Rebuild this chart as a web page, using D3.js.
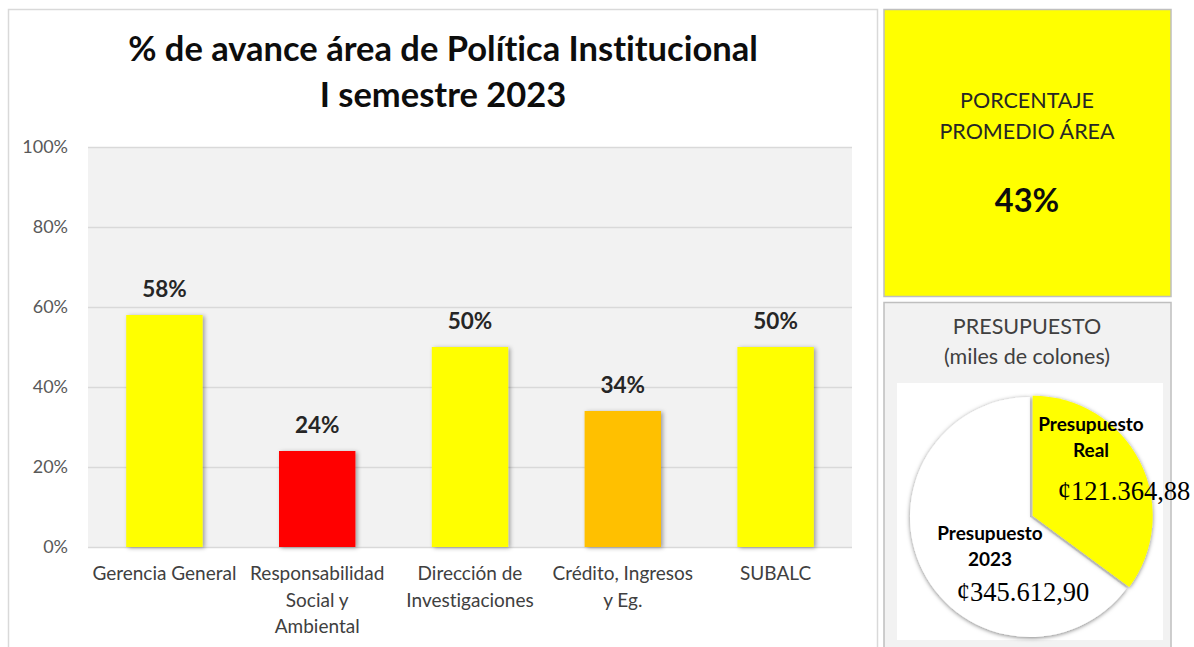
<!DOCTYPE html>
<html>
<head>
<meta charset="utf-8">
<script src="https://cdn.jsdelivr.net/npm/d3@7"></script>
<style>
  body { margin: 0; background: #ffffff; }
  svg { display: block; }
  text { font-family: Lato, "Open Sans", sans-serif; font-variant-ligatures: none; }
</style>
</head>
<body>
<svg id="chart" width="1194" height="647"></svg>
<script>
// Avance por dependencia
const categories = [
  ["Gerencia General"],
  ["Responsabilidad", "Social y", "Ambiental"],
  ["Dirección de", "Investigaciones"],
  ["Crédito, Ingresos", "y Eg."],
  ["SUBALC"]
];
const advance = [0.58, 0.24, 0.50, 0.34, 0.50];
const barColors = ["#ffff00", "#ff0000", "#ffff00", "#ffc000", "#ffff00"];
const yTicks = [0, 0.2, 0.4, 0.6, 0.8, 1.0];

// Indicador promedio
const averageValue = 0.43;

// Presupuesto (miles de colones)
const budget2023 = 345612.90;
const budgetReal = 121364.88;

const svg = d3.select("#chart");
const defs = svg.append("defs");

const shadow = defs.append("filter").attr("id", "barShadow")
  .attr("x", "-20%").attr("y", "-10%").attr("width", "150%").attr("height", "130%");
shadow.append("feDropShadow").attr("dx", 2).attr("dy", 1).attr("stdDeviation", 2)
  .attr("flood-color", "#000").attr("flood-opacity", 0.35);

const pieShadow = defs.append("filter").attr("id", "pieShadow")
  .attr("x", "-20%").attr("y", "-20%").attr("width", "140%").attr("height", "140%");
pieShadow.append("feDropShadow").attr("dx", 0).attr("dy", 1).attr("stdDeviation", 2)
  .attr("flood-color", "#000").attr("flood-opacity", 0.5);

// ---------- Panel izquierdo: gráfico de barras ----------
svg.append("rect")
  .attr("x", 8.5).attr("y", 9.5).attr("width", 869).attr("height", 660)
  .attr("fill", "#ffffff").attr("stroke", "#d9d9d9").attr("stroke-width", 1.5);

const plot = { left: 88, right: 852, top: 147, bottom: 547 };

svg.append("rect")
  .attr("x", plot.left).attr("y", plot.top)
  .attr("width", plot.right - plot.left).attr("height", plot.bottom - plot.top)
  .attr("fill", "#f2f2f2");

const x = d3.scaleBand()
  .domain(d3.range(categories.length))
  .range([plot.left, plot.right])
  .paddingInner(0.5).paddingOuter(0.25);

const y = d3.scaleLinear().domain([0, 1]).range([plot.bottom, plot.top]);

// Líneas de cuadrícula y etiquetas del eje
const yAxis = d3.axisLeft(y).tickValues(yTicks).tickFormat(d3.format(".0%"))
  .tickSize(-(plot.right - plot.left)).tickPadding(20);
const gy = svg.append("g").attr("transform", `translate(${plot.left},0)`).call(yAxis);
gy.select(".domain").remove();
gy.selectAll(".tick line").attr("stroke", "#d9d9d9").attr("stroke-width", 1.3);
gy.selectAll(".tick text")
  .attr("fill", "#595959").style("font-size", "18px")
  .style("font-family", "Lato, sans-serif");

// Barras
svg.append("g").selectAll("rect")
  .data(advance)
  .join("rect")
  .attr("x", (d, i) => x(i))
  .attr("y", d => y(d))
  .attr("width", x.bandwidth())
  .attr("height", d => y(0) - y(d))
  .attr("fill", (d, i) => barColors[i])
  .attr("filter", "url(#barShadow)");

// Etiquetas de valor
svg.append("g").selectAll("text")
  .data(advance)
  .join("text")
  .attr("x", (d, i) => x(i) + x.bandwidth() / 2)
  .attr("y", d => y(d) - 18)
  .attr("text-anchor", "middle")
  .attr("fill", "#262626")
  .style("font-size", "22.5px").style("font-weight", "bold")
  .text(d => d3.format(".0%")(d));

// Etiquetas de categoría
const catG = svg.append("g").selectAll("text")
  .data(categories)
  .join("text")
  .attr("x", (d, i) => x(i) + x.bandwidth() / 2)
  .attr("y", 580)
  .attr("text-anchor", "middle")
  .attr("fill", "#404040")
  .style("font-size", "19px");
catG.selectAll("tspan")
  .data(d => d)
  .join("tspan")
  .attr("x", function () { return d3.select(this.parentNode).attr("x"); })
  .attr("dy", (d, j) => j === 0 ? 0 : 26.5)
  .text(d => d);

// Título
const title = svg.append("text")
  .attr("x", 443).attr("y", 61)
  .attr("text-anchor", "middle")
  .attr("fill", "#0d0d0d")
  .style("font-size", "34.5px").style("font-weight", "bold");
title.append("tspan").attr("x", 443).attr("dy", 0).text("% de avance área de Política Institucional");
title.append("tspan").attr("x", 443).attr("dy", 46).text("I semestre 2023");

// ---------- Panel: porcentaje promedio ----------
svg.append("rect")
  .attr("x", 884).attr("y", 9.5).attr("width", 287).attr("height", 287)
  .attr("fill", "#ffff00").attr("stroke", "#bfbfbf").attr("stroke-width", 1.5);

const avgCx = 1027;
svg.append("text").attr("x", avgCx).attr("y", 108).attr("text-anchor", "middle")
  .attr("fill", "#262626").style("font-size", "21.5px").text("PORCENTAJE");
svg.append("text").attr("x", avgCx).attr("y", 139).attr("text-anchor", "middle")
  .attr("fill", "#262626").style("font-size", "21.5px").text("PROMEDIO ÁREA");
svg.append("text").attr("x", avgCx).attr("y", 212).attr("text-anchor", "middle")
  .attr("fill", "#0d0d0d").style("font-size", "32.5px").style("font-weight", "bold")
  .text(d3.format(".0%")(averageValue));

// ---------- Panel: presupuesto ----------
svg.append("rect")
  .attr("x", 884).attr("y", 302.5).attr("width", 287).attr("height", 360)
  .attr("fill", "#f2f2f2").attr("stroke", "#bfbfbf").attr("stroke-width", 1.5);

svg.append("text").attr("x", avgCx).attr("y", 334).attr("text-anchor", "middle")
  .attr("fill", "#404040").style("font-size", "21.5px").text("PRESUPUESTO");
svg.append("text").attr("x", avgCx).attr("y", 364).attr("text-anchor", "middle")
  .attr("fill", "#404040").style("font-size", "21.5px").text("(miles de colones)");

svg.append("rect")
  .attr("x", 897).attr("y", 383).attr("width", 266).attr("height", 257)
  .attr("fill", "#ffffff");

const pieData = [
  { name: "real", value: budgetReal, color: "#ffff00" },
  { name: "rest", value: budget2023 - budgetReal, color: "#ffffff" }
];
const pie = d3.pie().sort(null).value(d => d.value);
const arcs = pie(pieData);
const radius = 120;
const pieCx = 1030, pieCy = 517;
const arc = d3.arc().innerRadius(0).outerRadius(radius);

const pieG = svg.append("g").attr("transform", `translate(${pieCx},${pieCy})`);
// White slice first, then the slightly exploded yellow slice on top
pieG.append("path")
  .attr("d", arc(arcs[1]))
  .attr("fill", pieData[1].color)
  .attr("filter", "url(#pieShadow)");
const mid = (arcs[0].startAngle + arcs[0].endAngle) / 2;
const explode = 3;
pieG.append("path")
  .attr("transform", `translate(${Math.sin(mid) * explode},${-Math.cos(mid) * explode})`)
  .attr("d", arc(arcs[0]))
  .attr("fill", pieData[0].color)
  .attr("filter", "url(#pieShadow)");

const money = v => "¢" + d3.formatLocale({ decimal: ",", thousands: ".", grouping: [3] })
  .format(",.2f")(v);

// Etiquetas del gráfico circular
const lblReal = svg.append("text").attr("text-anchor", "middle")
  .attr("fill", "#000").style("font-size", "19px").style("font-weight", "bold");
lblReal.append("tspan").attr("x", 1091).attr("y", 431).text("Presupuesto");
lblReal.append("tspan").attr("x", 1091).attr("y", 457).text("Real");
svg.append("text").attr("x", 1124).attr("y", 500).attr("text-anchor", "middle")
  .attr("fill", "#000").style("font-family", "'Liberation Serif', 'Times New Roman', serif")
  .style("font-size", "26.5px").text(money(budgetReal));

const lbl23 = svg.append("text").attr("text-anchor", "middle")
  .attr("fill", "#000").style("font-size", "19px").style("font-weight", "bold");
lbl23.append("tspan").attr("x", 990).attr("y", 540).text("Presupuesto");
lbl23.append("tspan").attr("x", 990).attr("y", 566).text("2023");
svg.append("text").attr("x", 1023).attr("y", 601).attr("text-anchor", "middle")
  .attr("fill", "#000").style("font-family", "'Liberation Serif', 'Times New Roman', serif")
  .style("font-size", "26.5px").text(money(budget2023));
</script>
</body>
</html>
